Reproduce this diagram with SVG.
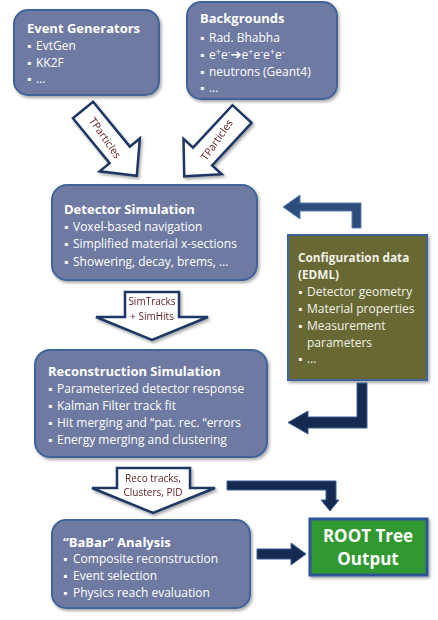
<svg xmlns="http://www.w3.org/2000/svg" width="438" height="620" viewBox="0 0 438 620">
<style>
.box{fill:#6e7aa2;stroke:#41639a;stroke-width:2}
.cfg{fill:#686834;stroke:#41639a;stroke-width:2}
.root{fill:#339933;stroke:#2e5597;stroke-width:3}
.t{font-family:"Open Sans","Liberation Sans",sans-serif;font-size:12px;fill:#ffffff}
.h{font-weight:bold;font-size:13px}
.c{fill:#f2f2e6}
.ch{font-size:11.8px}
.sup{font-size:9px}
.arr{font-family:"DejaVu Sans",sans-serif;font-size:13px}
.blk{fill:#ffffff;stroke:#1f3864;stroke-width:2.5;stroke-linejoin:miter}
.lbl{font-family:"Open Sans","Liberation Sans",sans-serif;font-size:10px;fill:#632423;text-anchor:middle}
.tp{font-size:10.5px}
.dark{fill:#142a50;stroke:#3d5f94;stroke-width:1}
.steel{fill:#2d4d7c;stroke:#5b7db3;stroke-width:1}
.rt{font-family:"Open Sans","Liberation Sans",sans-serif;font-size:17px;font-weight:bold;fill:#ffffff;text-anchor:middle}
</style>
<defs>
<filter id="sh" x="-10%" y="-10%" width="125%" height="130%">
<feDropShadow dx="1.5" dy="2" stdDeviation="1.5" flood-color="#000" flood-opacity="0.35"/>
</filter>
</defs>

<g id="event-generators">
<rect class="box" x="14" y="10" width="145" height="85" rx="14" filter="url(#sh)"/>
<text class="t h" x="27" y="33">Event Generators</text>
<text class="t" x="27" y="50">▪<tspan x="36">EvtGen</tspan></text>
<text class="t" x="27" y="67">▪<tspan x="36">KK2F</tspan></text>
<text class="t" x="27" y="83">▪<tspan x="36">…</tspan></text>
</g>

<g id="backgrounds">
<rect class="box" x="187" y="2" width="150" height="97" rx="14" filter="url(#sh)"/>
<text class="t h" x="200" y="23">Backgrounds</text>
<text class="t" x="200" y="42">▪<tspan x="209">Rad. Bhabha</tspan></text>
<text class="t" x="200" y="59">▪<tspan x="209">e</tspan><tspan class="sup" dy="-4">+</tspan><tspan dy="4">e</tspan><tspan class="sup" dy="-4">-</tspan><tspan class="arr" dy="4">➔</tspan><tspan>e</tspan><tspan class="sup" dy="-4">+</tspan><tspan dy="4">e</tspan><tspan class="sup" dy="-4">-</tspan><tspan dy="4">e</tspan><tspan class="sup" dy="-4">+</tspan><tspan dy="4">e</tspan><tspan class="sup" dy="-4">-</tspan></text>
<text class="t" x="200" y="76">▪<tspan x="209">neutrons (Geant4)</tspan></text>
<text class="t" x="200" y="92">▪<tspan x="209">…</tspan></text>
</g>

<g id="detector-simulation">
<rect class="box" x="52" y="185" width="205" height="95" rx="15" filter="url(#sh)"/>
<text class="t h" x="64" y="214">Detector Simulation</text>
<text class="t" x="64" y="231">▪<tspan x="73">Voxel-based navigation</tspan></text>
<text class="t" x="64" y="248">▪<tspan x="73">Simplified material x-sections</tspan></text>
<text class="t" x="64" y="266">▪<tspan x="73">Showering, decay, brems, …</tspan></text>
</g>

<g id="configuration-data">
<rect class="cfg" x="288" y="235" width="139" height="145" filter="url(#sh)"/>
<text class="t h c ch" x="298" y="262">Configuration data</text>
<text class="t h c ch" x="298" y="279">(EDML)</text>
<text class="t c" x="298" y="296">▪<tspan x="307">Detector geometry</tspan></text>
<text class="t c" x="298" y="313">▪<tspan x="307">Material properties</tspan></text>
<text class="t c" x="298" y="330">▪<tspan x="307">Measurement</tspan></text>
<text class="t c" x="307" y="347">parameters</text>
<text class="t c" x="298" y="363">▪<tspan x="307">…</tspan></text>
</g>

<g id="reconstruction-simulation">
<rect class="box" x="35" y="350" width="232" height="107" rx="15" filter="url(#sh)"/>
<text class="t h" x="48" y="376">Reconstruction Simulation</text>
<text class="t" x="48" y="393">▪<tspan x="57">Parameterized detector response</tspan></text>
<text class="t" x="48" y="410">▪<tspan x="57">Kalman Filter track fit</tspan></text>
<text class="t" x="48" y="427">▪<tspan x="57">Hit merging and “pat. rec. “errors</tspan></text>
<text class="t" x="48" y="444">▪<tspan x="57">Energy merging and clustering</tspan></text>
</g>

<g id="babar-analysis">
<rect class="box" x="52" y="520" width="198" height="88" rx="14" filter="url(#sh)"/>
<text class="t h" x="63" y="547">“BaBar” Analysis</text>
<text class="t" x="63" y="563">▪<tspan x="73">Composite reconstruction</tspan></text>
<text class="t" x="63" y="580">▪<tspan x="73">Event selection</tspan></text>
<text class="t" x="63" y="597">▪<tspan x="73">Physics reach evaluation</tspan></text>
</g>

<g id="root-output">
<rect class="root" x="310" y="519" width="117" height="56" filter="url(#sh)"/>
<text class="rt" x="368" y="542">ROOT Tree</text>
<text class="rt" x="368" y="565">Output</text>
</g>

<g id="connectors">
<g filter="url(#sh)">
<polygon class="blk" transform="translate(83,110) rotate(50.7)" points="0,-13 58,-13 58,-26 85,0 58,26 58,13 0,13"/>
<polygon class="blk" transform="translate(242,114) rotate(132.8)" points="0,-13 58,-13 58,-26 85,0 58,26 58,13 0,13"/>
<polygon class="blk" points="125,292 179,292 179,317 208,317 152,340 96,317 125,317"/>
<polygon class="blk" points="117,468 190,468 190,488 215,488 153,513 92,488 117,488"/>
</g>
<text class="lbl tp" transform="translate(105,138) rotate(55)" dy="3.5">TParticles</text>
<text class="lbl tp" transform="translate(217,140) rotate(-55)" dy="3.5">TParticles</text>
<text class="lbl" x="152" y="305">SimTracks</text>
<text class="lbl" x="152" y="320">+ SimHits</text>
<text class="lbl" x="153" y="482">Reco tracks,</text>
<text class="lbl" x="153" y="496">Clusters, PID</text>

<polygon class="steel" points="361,228 361,203 300,203 300,195 283,207 300,219 300,211 352,211 352,228"/>
<polygon class="dark" points="357,383 367,383 367,428 308,428 308,434 288,422.5 308,411 308,417 357,417"/>
<polygon class="dark" points="227,481 336,481 336,500 339,500 330,511 321,500 326,500 326,490 227,490"/>
<polygon class="dark" points="257,549 291,549 291,543 306,554 291,565 291,559 257,559"/>
</g>
</svg>
